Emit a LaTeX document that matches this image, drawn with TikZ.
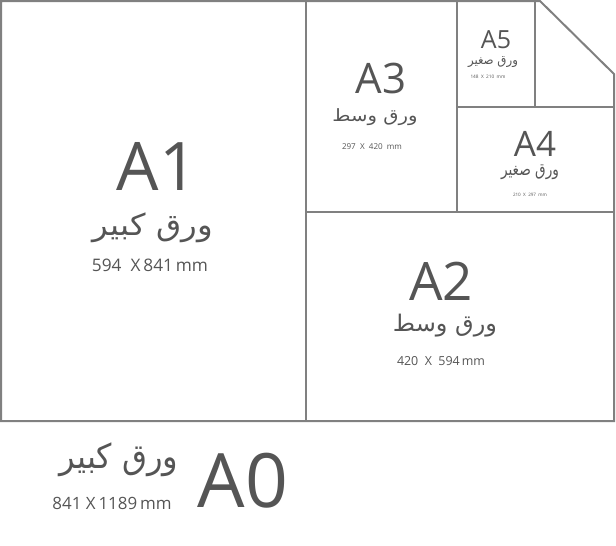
\documentclass[tikz,border=0pt]{standalone}
\usepackage{fontspec}
\usepackage{graphicx}
\setmainfont{Open Sans}
\newfontfamily\arabicfont[Script=Arabic]{DejaVu Sans}
\TeXXeTstate=1
\definecolor{linegray}{HTML}{808080}
\definecolor{txtgray}{HTML}{555555}
\newcommand{\fitbox}[3]{\resizebox*{#1pt}{#2pt}{#3}}
\newcommand{\fitdim}[2]{\resizebox{#1pt}{!}{#2}}
\begin{document}
\begin{tikzpicture}[x=1pt,y=-1pt,
  frame/.style={draw=linegray,line width=2pt},
  txt/.style={inner sep=0pt,outer sep=0pt,text=txtgray},
  big/.style={txt,font=\fontsize{#1}{#1}\selectfont}]
\useasboundingbox (0,0) rectangle (616,546);
% outlines
\draw[frame,line join=miter] (1,1) -- (540,1) -- (614,74) -- (614,421) -- (1,421) -- cycle;
\draw[frame] (306,1) -- (306,421);
\draw[frame] (306,212) -- (614,212);
\draw[frame] (457,1) -- (457,212);
\draw[frame] (457,107) -- (614,107);
\draw[frame] (535,1) -- (535,107);
% A1
\node[big=67,anchor=base] (a1) at (157,190) {A1};
\node[txt] (a1ar) at (153,228) {\fitbox{120}{30}{\arabicfont\beginR ورق كبير\endR}};
\node[txt] (a1d) at (150,265) {\fitdim{116}{594\ \ X\,841\,mm}};
% A2
\node[big=53,anchor=base] (a2) at (441,300) {A2};
\node[txt] (a2ar) at (445,326) {\fitbox{104}{23}{\arabicfont\beginR ورق وسط\endR}};
\node[txt] (a2d) at (441,361) {\fitdim{88}{420\ \ X\ \ 594\,mm}};
% A3
\node[big=42,anchor=base] (a3) at (381,93) {A3};
\node[txt] (a3ar) at (375,117) {\fitbox{85}{17}{\arabicfont\beginR ورق وسط\endR}};
\node[txt] (a3d) at (372,147) {\fitdim{60}{297\ \ X\ \ 420\ \ mm}};
% A5
\node[big=25,anchor=base] (a5) at (496,48) {A5};
\node[txt] (a5ar) at (493,62.5) {\fitbox{50}{11}{\arabicfont\beginR ورق صغير\endR}};
\node[txt] (a5d) at (488,77) {\fitdim{35}{148\ \ X\ \ 210\ \ mm}};
% A4
\node[big=35,anchor=base] (a4) at (535,156) {A4};
\node[txt] (a4ar) at (530,172) {\fitbox{58}{15}{\arabicfont\beginR ورق صغير\endR}};
\node[txt] (a4d) at (530,195) {\fitdim{34}{210\ \ X\ \ 297\ \ mm}};
% A0
\node[big=75,anchor=base] (a0) at (243,507) {A0};
\node[txt] (a0ar) at (119,460) {\fitbox{119}{34}{\arabicfont\beginR ورق كبير\endR}};
\node[txt] (a0d) at (112,503) {\fitdim{119}{841\ X\,1189\,mm}};
\end{tikzpicture}
\end{document}
